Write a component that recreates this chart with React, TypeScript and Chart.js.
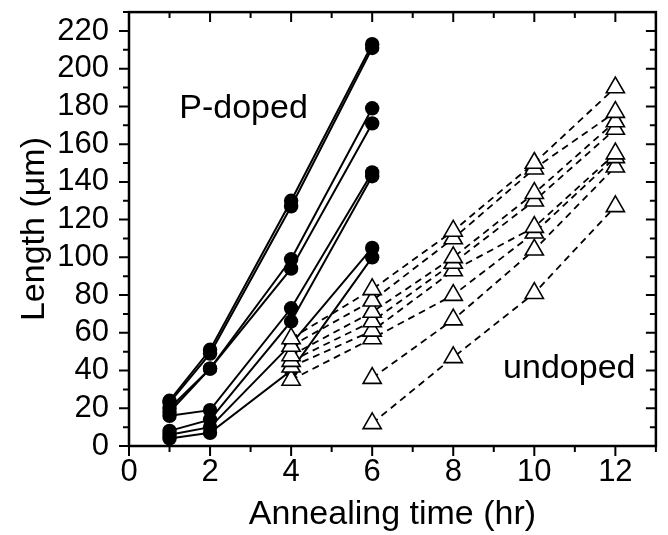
import React, { useEffect, useRef } from 'react';
import { Chart, registerables } from 'chart.js';

Chart.register(...registerables);

const FONT = "'Liberation Sans', Arial, Helvetica, sans-serif";

const X_TICKS = [0, 2, 4, 6, 8, 10, 12];
const Y_TICKS = [0, 20, 40, 60, 80, 100, 120, 140, 160, 180, 200, 220];
const X_MIN = 0;
const X_MAX = 13;
const Y_MIN = 0;
const Y_MAX = 230;

// P-doped: filled circles, solid lines
const DOPED_TIMES = [1, 2, 4, 6];
const DOPED_1 = [24, 51, 130, 213];
const DOPED_2 = [23, 49, 127, 211];
const DOPED_3 = [20, 41, 99, 179];
const DOPED_4 = [18, 41, 94, 171];
const DOPED_5 = [16, 19, 73, 145];
const DOPED_6 = [8, 14, 66, 143];
const DOPED_7 = [6, 10, 54, 105];
const DOPED_8 = [4, 7, 40, 100];
const DOPED_SERIES = [DOPED_1, DOPED_2, DOPED_3, DOPED_4, DOPED_5, DOPED_6, DOPED_7, DOPED_8];

// undoped: open triangles, dashed lines (null = not measured)
const UNDOPED_TIMES = [4, 6, 8, 10, 12];
const UNDOPED_1 = [57, 83, 114, 150, 190];
const UNDOPED_2 = [53, 77, 110, 147, 177];
const UNDOPED_3 = [48, 71, 100, 134, 172];
const UNDOPED_4 = [45, 66, 97, 130, 168];
const UNDOPED_5 = [42, 61, 93, 116, 155];
const UNDOPED_6 = [35, 57, 80, 113, 153];
const UNDOPED_7 = [null, 36, 67, 104, 148];
const UNDOPED_8 = [null, 12, 47, 81, 127];
const UNDOPED_SERIES = [UNDOPED_1, UNDOPED_2, UNDOPED_3, UNDOPED_4, UNDOPED_5, UNDOPED_6, UNDOPED_7, UNDOPED_8];

const LABEL_DOPED = { text: 'P-doped', x: 1.24, y: 174 };
const LABEL_UNDOPED = { text: 'undoped', x: 9.23, y: 36 };

function toPoints(times: number[], vals: (number | null)[]) {
  const pts: { x: number; y: number }[] = [];
  vals.forEach((v, i) => {
    if (v !== null) pts.push({ x: times[i], y: v });
  });
  return pts;
}

function noPad(s: any) {
  s.paddingLeft = 0;
  s.paddingRight = 0;
  s.paddingTop = 0;
  s.paddingBottom = 0;
}

const framePlugin = {
  id: 'frame',
  afterDraw(chart: any) {
    const { ctx, chartArea } = chart;
    const { left, right, top, bottom } = chartArea;
    const xs = chart.scales.x;
    const ys = chart.scales.y;
    ctx.save();
    ctx.strokeStyle = '#000';
    ctx.lineWidth = 2.5;
    ctx.strokeRect(left, top, right - left, bottom - top);
    ctx.lineWidth = 2;
    ctx.beginPath();
    for (let v = X_MIN; v <= X_MAX; v += 1) {
      const px = xs.getPixelForValue(v);
      const major = v % 2 === 0;
      const len = major ? 10 : 6;
      ctx.moveTo(px, bottom);
      ctx.lineTo(px, bottom + len);
      ctx.moveTo(px, top);
      ctx.lineTo(px, top + len);
    }
    for (let v = Y_MIN; v <= Y_MAX; v += 10) {
      const py = ys.getPixelForValue(v);
      const major = v % 20 === 0;
      const len = major ? 10 : 6;
      ctx.moveTo(left, py);
      ctx.lineTo(left - len, py);
      ctx.moveTo(right, py);
      ctx.lineTo(right - len, py);
    }
    ctx.stroke();

    ctx.fillStyle = '#000';
    ctx.font = `34px ${FONT}`;
    ctx.textAlign = 'left';
    ctx.textBaseline = 'alphabetic';
    for (const lab of [LABEL_DOPED, LABEL_UNDOPED]) {
      ctx.fillText(lab.text, xs.getPixelForValue(lab.x), ys.getPixelForValue(lab.y));
    }
    ctx.restore();
  },
};

export default function App() {
  const ref = useRef<HTMLCanvasElement | null>(null);

  useEffect(() => {
    if (!ref.current) return;
    const datasets: any[] = [];
    UNDOPED_SERIES.forEach((s) => {
      datasets.push({
        data: toPoints(UNDOPED_TIMES, s),
        borderColor: '#000',
        borderWidth: 1.8,
        borderDash: [7, 5],
        pointStyle: 'triangle',
        pointRadius: 10.5,
        pointBackgroundColor: '#fff',
        pointBorderColor: '#000',
        pointBorderWidth: 1.6,
        fill: false,
        tension: 0,
        order: 0,
      });
    });
    DOPED_SERIES.forEach((s) => {
      datasets.push({
        data: toPoints(DOPED_TIMES, s),
        borderColor: '#000',
        borderWidth: 2,
        pointStyle: 'circle',
        pointRadius: 7.2,
        pointBackgroundColor: '#000',
        pointBorderColor: '#000',
        pointBorderWidth: 0,
        fill: false,
        tension: 0,
        order: 1,
      });
    });

    const chart = new Chart(ref.current, {
      type: 'line',
      data: { datasets },
      options: {
        animation: false,
        responsive: true,
        maintainAspectRatio: false,
        layout: { padding: { top: 7, right: 5, left: 0, bottom: 0 } },
        plugins: { legend: { display: false }, tooltip: { enabled: false } },
        scales: {
          x: {
            type: 'linear',
            min: X_MIN,
            max: X_MAX,
            grid: { display: false },
            border: { display: false },
            afterBuildTicks: (s: any) => {
              s.ticks = X_TICKS.map((v) => ({ value: v }));
            },
            afterFit: (s: any) => {
              s.height = 89;
              noPad(s);
            },
            ticks: {
              color: '#000',
              font: { family: FONT, size: 31 },
              padding: 0,
              maxRotation: 0,
              autoSkip: false,
            },
            title: {
              display: true,
              text: 'Annealing time (hr)',
              color: '#000',
              font: { family: FONT, size: 34 },
              padding: { top: 0, bottom: 0 },
            },
          },
          y: {
            type: 'linear',
            min: Y_MIN,
            max: Y_MAX,
            grid: { display: false },
            border: { display: false },
            afterBuildTicks: (s: any) => {
              s.ticks = Y_TICKS.map((v) => ({ value: v }));
            },
            afterFit: (s: any) => {
              s.width = 129;
              noPad(s);
            },
            ticks: {
              color: '#000',
              font: { family: FONT, size: 31 },
              padding: 12,
              autoSkip: false,
            },
            title: {
              display: true,
              text: 'Length (μm)',
              color: '#000',
              font: { family: FONT, size: 34 },
              padding: { top: 14, bottom: 0 },
            },
          },
        },
      },
      plugins: [framePlugin],
    });
    return () => chart.destroy();
  }, []);

  return (
    <div style={{ position: 'fixed', left: 0, top: 0, width: 668, height: 535, background: '#fff' }}>
      <canvas ref={ref} />
    </div>
  );
}
